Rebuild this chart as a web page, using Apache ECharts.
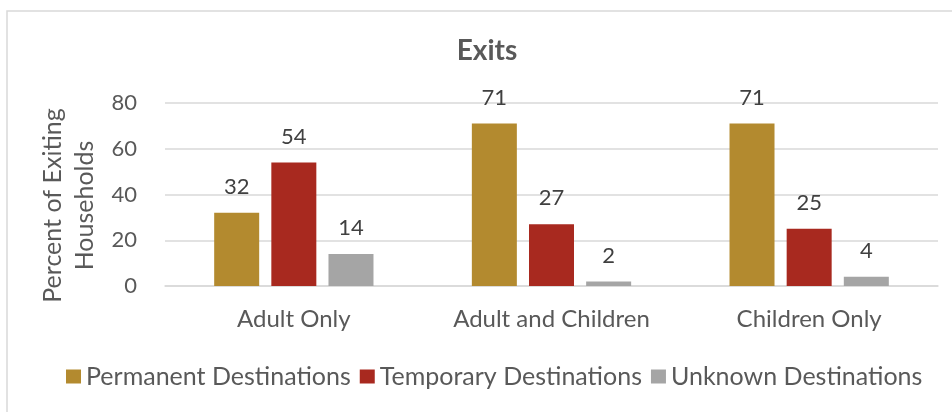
<!DOCTYPE html>
<html>
<head>
<meta charset="utf-8">
<script src="https://cdn.jsdelivr.net/npm/echarts@6/dist/echarts.min.js"></script>
<style>
html,body{margin:0;padding:0;background:#fff;}
#chart{width:952px;height:412px;}
</style>
</head>
<body>
<div id="chart"></div>
<script>
var categories = ['Adult Only', 'Adult and Children', 'Children Only'];
var permanent = [32, 71, 71];
var temporary = [54, 27, 25];
var unknown = [14, 2, 4];
var yTicks = [0, 20, 40, 60, 80];

var FONT = 'Lato';
var chart = echarts.init(document.getElementById('chart'), null, {renderer: 'canvas'});
function barSeries(name, data, color) {
  return {
    name: name, type: 'bar', data: data, barWidth: 45, barGap: '27%',
    itemStyle: {color: color},
    label: {show: true, position: 'top', distance: 15, color: '#404040',
            fontFamily: FONT, fontSize: 22},
    emphasis: {disabled: true}
  };
}
chart.setOption({
  animation: false,
  backgroundColor: '#ffffff',
  title: {
    text: 'Exits', left: 482, top: 32, textAlign: 'center',
    textStyle: {fontFamily: FONT, fontWeight: 'bold', fontSize: 28, color: '#595959'}
  },
  graphic: [{
    type: 'rect', silent: true, z: -1,
    shape: {x: 7, y: 11, width: 980, height: 440},
    style: {fill: null, stroke: '#d9d9d9', lineWidth: 1.5}
  }],
  legend: {
    left: 66, top: 364, padding: 0, itemWidth: 15, itemHeight: 14, itemGap: 9,
    icon: 'rect',
    textStyle: {fontFamily: FONT, fontSize: 25, color: '#595959'},
    data: ['Permanent Destinations', 'Temporary Destinations', 'Unknown Destinations']
  },
  grid: {left: 165, right: 14, top: 103, bottom: 126, containLabel: false},
  xAxis: {
    type: 'category', data: categories,
    axisLine: {lineStyle: {color: '#d9d9d9', width: 1.5}},
    axisTick: {show: false},
    axisLabel: {fontFamily: FONT, fontSize: 24, color: '#595959', margin: 21}
  },
  yAxis: {
    type: 'value', min: 0, max: 80, interval: 20,
    axisLine: {show: false}, axisTick: {show: false},
    axisLabel: {fontFamily: FONT, fontSize: 22, color: '#595959', margin: 28,
      formatter: function (v) { return yTicks.indexOf(v) >= 0 ? String(v) : ''; }},
    splitLine: {lineStyle: {color: '#d9d9d9', width: 1.5}},
    name: 'Percent of Exiting\nHouseholds',
    nameLocation: 'middle', nameGap: 55, nameRotate: 90,
    nameTextStyle: {fontFamily: FONT, fontSize: 25, color: '#595959', lineHeight: 32,
      padding: [0, 22, 0, 0]}
  },
  series: [
    barSeries('Permanent Destinations', permanent, '#B38A2F'),
    barSeries('Temporary Destinations', temporary, '#A8291F'),
    barSeries('Unknown Destinations', unknown, '#A5A5A5')
  ]
});
</script>
</body>
</html>
